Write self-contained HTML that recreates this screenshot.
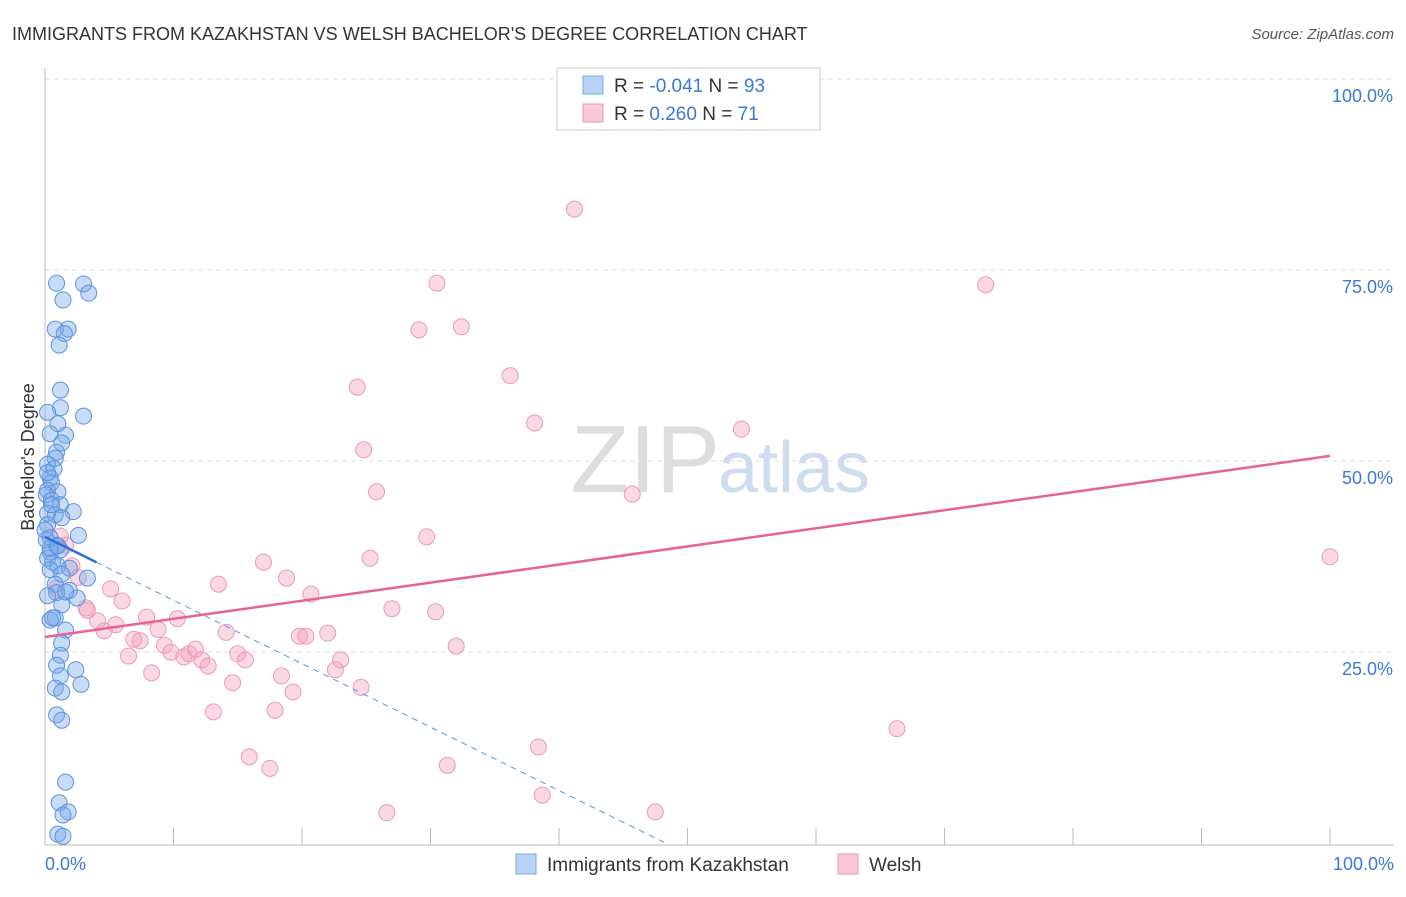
<!DOCTYPE html>
<html><head><meta charset="utf-8"><style>
body{margin:0;background:#fff;font-family:"Liberation Sans",sans-serif;}
svg text{font-family:"Liberation Sans",sans-serif;}
</style></head><body>
<svg id="chart" width="1406" height="892">
<text x="12" y="40" font-size="18" fill="#333">IMMIGRANTS FROM KAZAKHSTAN VS WELSH BACHELOR'S DEGREE CORRELATION CHART</text>
<text x="1394" y="39" font-size="15" fill="#555" text-anchor="end" font-style="italic">Source: ZipAtlas.com</text>
<text x="720" y="492" font-size="96" fill="#ddd" text-anchor="end" font-family="Liberation Serif">ZIP</text>
<text x="718" y="492" font-size="72" fill="#cfdcf0">atlas</text>
<g id="grid"></g>
<g id="axes"></g>
<g id="pts"></g>
<g id="lines"></g>
<text transform="translate(34,457) rotate(-90)" font-size="18" fill="#333" text-anchor="middle">Bachelor's Degree</text>
<text x="45" y="870" font-size="18" fill="#3b78d8">0.0%</text>
<text x="1394" y="870" font-size="18" fill="#3b78d8" text-anchor="end">100.0%</text>
<g>
<rect x="557" y="68" width="263" height="62" fill="#fff" stroke="#ccc"/>
<rect x="583" y="76" width="20" height="18" fill="#b8d3f5" stroke="#7aa6e6"/>
<rect x="583" y="104" width="20" height="18" fill="#f9c7d6" stroke="#ec9ab4"/>
<text x="614" y="92" font-size="19" fill="#333">R = <tspan fill="#3b78d8">-0.041</tspan>   N = <tspan fill="#3b78d8">93</tspan></text>
<text x="614" y="120" font-size="19" fill="#333">R =  <tspan fill="#3b78d8">0.260</tspan>   N =  <tspan fill="#3b78d8">71</tspan></text>
</g>
<g>
<rect x="516" y="854" width="20" height="20" fill="#b8d3f5" stroke="#7aa6e6"/>
<text x="547" y="871" font-size="19" fill="#333">Immigrants from Kazakhstan</text>
<rect x="838" y="854" width="20" height="20" fill="#f9c7d6" stroke="#ec9ab4"/>
<text x="869" y="871" font-size="19" fill="#333">Welsh</text>
</g>
</svg>
<script>
const yTicks=[25,50,75,100];
const yTickLabels=["25.0%","50.0%","75.0%","100.0%"];
const xTicks=[0,10,20,30,40,50,60,70,80,90,100];
const blueX=[0.9,3.0,3.4,1.4,0.8,1.8,1.5,1.1,1.2,1.2,3.0,0.2,1.0,0.4,1.6,1.3,0.9,0.8,0.2,0.7,0.4,0.5,0.2,1.0,0.1,0.5,1.2,2.2,0.2,0.8,1.3,0.2,2.6,0.4,0.9,1.2,0.4,0.2,0.6,1.0,1.9,0.4,1.3,3.3,0.8,1.9,0.9,0.2,2.5,1.3,0.8,0.4,1.6,1.3,1.2,0.9,2.4,1.2,2.8,0.8,1.3,0.9,1.3,1.6,1.1,1.8,1.4,1.0,1.4,0.1,0.4,0,0.5,0.2,1.0,1.6,0.6];
const blueY=[73.4,73.3,72.1,71.2,67.4,67.4,66.8,65.3,59.4,57.1,56.0,56.5,55.0,53.7,53.5,52.5,51.3,50.5,49.7,49.1,47.9,47.3,46.3,46.1,45.7,45.0,44.4,43.5,43.3,43.1,42.7,41.8,40.4,40.1,39.1,38.5,38.2,37.4,36.9,36.4,36.1,35.9,35.3,34.8,34.0,33.2,32.9,32.5,32.2,31.3,29.6,29.3,28.0,26.3,24.7,23.4,22.8,22.0,20.9,20.4,19.9,16.9,16.2,8.1,5.4,4.2,3.8,1.3,1.0,39.8,38.7,41.1,44.4,48.6,39.0,33.0,29.6];
const pinkX=[41.2,30.5,73.2,29.1,32.4,36.2,24.3,38.1,54.2,24.8,25.8,45.7,29.7,100,17.0,25.3,18.8,13.5,20.7,5.1,6.0,27.0,30.4,7.9,10.3,3.3,4.1,5.5,8.8,14.1,4.6,19.8,20.3,22.0,6.9,7.4,9.3,11.7,32.0,9.8,6.5,10.8,11.2,15.0,12.2,15.6,12.7,23.0,22.6,8.3,18.4,14.6,24.6,19.3,17.9,13.1,66.3,38.4,15.9,17.5,31.3,38.7,26.6,47.5,1.2,1.6,2.1,2.6,0.9,3.2];
const pinkY=[83.1,73.4,73.2,67.3,67.7,61.3,59.8,55.1,54.3,51.6,46.1,45.8,40.2,37.6,36.9,37.4,34.8,34.0,32.7,33.4,31.8,30.8,30.4,29.7,29.5,30.6,29.2,28.7,28.1,27.7,27.9,27.2,27.2,27.6,26.8,26.6,26.0,25.5,25.9,25.1,24.6,24.5,24.9,24.9,24.1,24.1,23.3,24.1,22.8,22.4,22.0,21.1,20.5,19.9,17.5,17.3,15.1,12.7,11.4,9.9,10.3,6.4,4.1,4.2,40.3,39.1,36.4,34.9,33.5,30.9];
const pinkTrend=[27.1,50.8];
const blueTrend=[40.2,-0.83];
const X=v=>45+12.85*v, Y=v=>844-7.64*v;
const NS="http://www.w3.org/2000/svg";
function mk(t,a,p){const e=document.createElementNS(NS,t);for(const k in a)e.setAttribute(k,a[k]);document.getElementById(p).appendChild(e);return e;}
yTicks.forEach((t,i)=>{
 const g=mk('line',{x1:45,x2:1394,y1:Y(t)-1,y2:Y(t)-1,stroke:'#ddd','stroke-dasharray':'5,4'},'grid');
 
 
 const l=mk('text',{x:1393,y:Y(t)+22,'font-size':18,fill:'#3b78d8','text-anchor':'end'},'grid');
 l.textContent=yTickLabels[i];
 
 
});
const ax=mk('line',{x1:45,x2:45,y1:68,y2:845,stroke:'#bbb'},'axes');


const bx=mk('line',{x1:45,x2:1394,y1:845,y2:845,stroke:'#bbb'},'axes');


xTicks.forEach(t=>{
 const k=mk('line',{x1:X(t),x2:X(t),y1:828,y2:845,stroke:'#bbb'},'axes');
 
 
});
pinkX.forEach((x,i)=>{
 const c=mk('circle',{cx:X(x),cy:Y(pinkY[i]),r:8,fill:'rgba(244,160,188,0.4)',stroke:'#ec9ab4','stroke-width':1},'pts');
 
 
});
blueX.forEach((x,i)=>{
 const c=mk('circle',{cx:X(x),cy:Y(blueY[i]),r:8,fill:'rgba(120,168,232,0.4)',stroke:'#5b93de','stroke-width':1},'pts');
 
 
});
const pl=mk('line',{x1:X(0),y1:Y(pinkTrend[0]),x2:X(100),y2:Y(pinkTrend[1]),stroke:'#e8638f','stroke-width':2.5},'lines');


const bs=mk('line',{x1:X(0),y1:Y(blueTrend[0]),x2:X(4),y2:Y(blueTrend[0]+blueTrend[1]*4),stroke:'#2d6fd6','stroke-width':2.5},'lines');


const xe=-blueTrend[0]/blueTrend[1];
const bd=mk('line',{x1:X(4),y1:Y(blueTrend[0]+blueTrend[1]*4),x2:X(xe),y2:Y(0),stroke:'#5b93de','stroke-width':1,'stroke-dasharray':'6,5'},'lines');


</script>
</body></html>
